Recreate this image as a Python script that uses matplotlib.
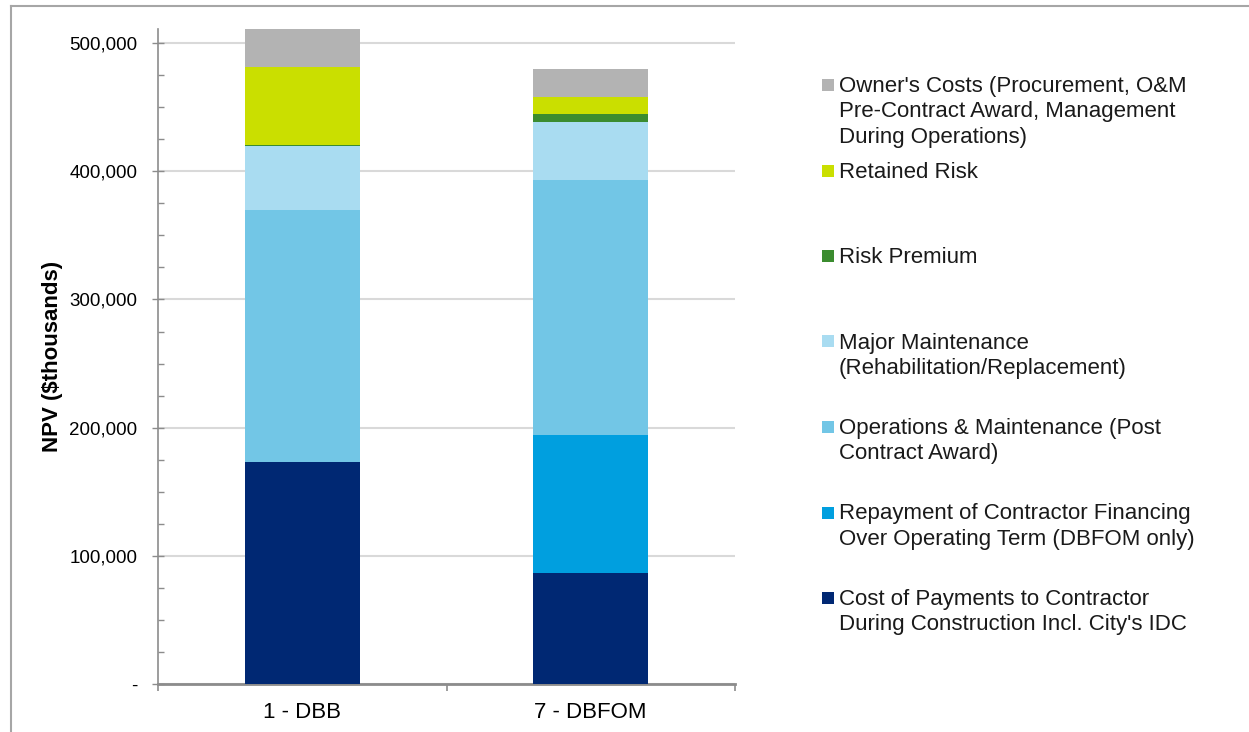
import matplotlib.pyplot as plt
from matplotlib.lines import Line2D
from matplotlib.patches import Rectangle
from matplotlib.ticker import FuncFormatter, MultipleLocator

plt.rcParams["font.family"] = ["Liberation Sans", "DejaVu Sans"]

categories = ["1 - DBB", "7 - DBFOM"]

# NPV components in $ thousands, bottom of stack first
construction = [173000, 86500]
repayment = [0, 107500]
operations = [196500, 199000]
major_maint = [50000, 45500]
risk_premium = [1000, 6000]
retained_risk = [61000, 13500]
owners_costs = [29500, 22000]

series = [
    (construction, "#002873", "Cost of Payments to Contractor\nDuring Construction Incl. City's IDC"),
    (repayment, "#009FDF", "Repayment of Contractor Financing\nOver Operating Term (DBFOM only)"),
    (operations, "#72C6E6", "Operations & Maintenance (Post\nContract Award)"),
    (major_maint, "#A9DCF1", "Major Maintenance\n(Rehabilitation/Replacement)"),
    (risk_premium, "#3B8C2F", "Risk Premium"),
    (retained_risk, "#CADF00", "Retained Risk"),
    (owners_costs, "#B3B3B3", "Owner's Costs (Procurement, O&M\nPre-Contract Award, Management\nDuring Operations)"),
]

W, H = 1249, 732
fig = plt.figure(figsize=(W / 100, H / 100), dpi=100)
ax = fig.add_axes([158 / W, 1 - 684 / H, (735 - 158) / W, (684 - 29) / H])

x = range(len(categories))
bottom = [0, 0]
for values, color, label in series:
    ax.bar(x, values, width=0.4, bottom=bottom, color=color, linewidth=0, zorder=3)
    bottom = [b + v for b, v in zip(bottom, values)]

ax.set_xlim(-0.5, 1.5)
ax.set_ylim(0, 511000)

ax.yaxis.set_major_locator(MultipleLocator(100000))
ax.yaxis.set_minor_locator(MultipleLocator(25000))
ax.yaxis.set_major_formatter(FuncFormatter(lambda v, p: "-" if v == 0 else f"{int(v):,}"))
ax.tick_params(axis="y", which="major", direction="inout", length=9, width=1,
               color="#8C8C8C", labelsize=13.5, pad=10.5)
ax.tick_params(axis="y", which="minor", direction="in", length=4, width=1, color="#8C8C8C")
ax.grid(axis="y", which="major", color="#D9D9D9", linewidth=1.5, zorder=0)

ax.set_xticks([-0.5, 0.5, 1.5])
ax.set_xticklabels([])
ax.tick_params(axis="x", which="major", direction="out", length=5, width=1.2, color="#8C8C8C")
ax.set_xticks(list(x), minor=True)
ax.set_xticklabels(categories, minor=True, fontsize=16)
ax.tick_params(axis="x", which="minor", length=0, pad=13)

for side in ["top", "right"]:
    ax.spines[side].set_visible(False)
ax.spines["left"].set_color("#8C8C8C")
ax.spines["left"].set_linewidth(1.2)
ax.spines["bottom"].set_color("#8C8C8C")
ax.spines["bottom"].set_linewidth(2)

ax.set_ylabel("NPV ($thousands)", fontsize=16, fontweight="bold", labelpad=4)

# legend: evenly spaced entries, top entry first
for i, (values, color, label) in enumerate(reversed(series)):
    y = 85 + i * 85.5
    fig.add_artist(Rectangle((822 / W, 1 - (y + 6) / H), 12 / W, 12 / H,
                             transform=fig.transFigure, color=color, linewidth=0))
    fig.text(839 / W, 1 - (y - 9) / H, label, fontsize=16, va="top", ha="left",
             linespacing=1.27, color="#1A1A1A")

# frame lines along the left and top edges
fig.add_artist(Line2D([11 / W, 11 / W], [0, 1 - 6 / H], transform=fig.transFigure,
                      color="#A6A6A6", linewidth=1.5))
fig.add_artist(Line2D([11 / W, 1], [1 - 6 / H, 1 - 6 / H], transform=fig.transFigure,
                      color="#A6A6A6", linewidth=1.5))

fig.savefig("out.png", dpi=100)
